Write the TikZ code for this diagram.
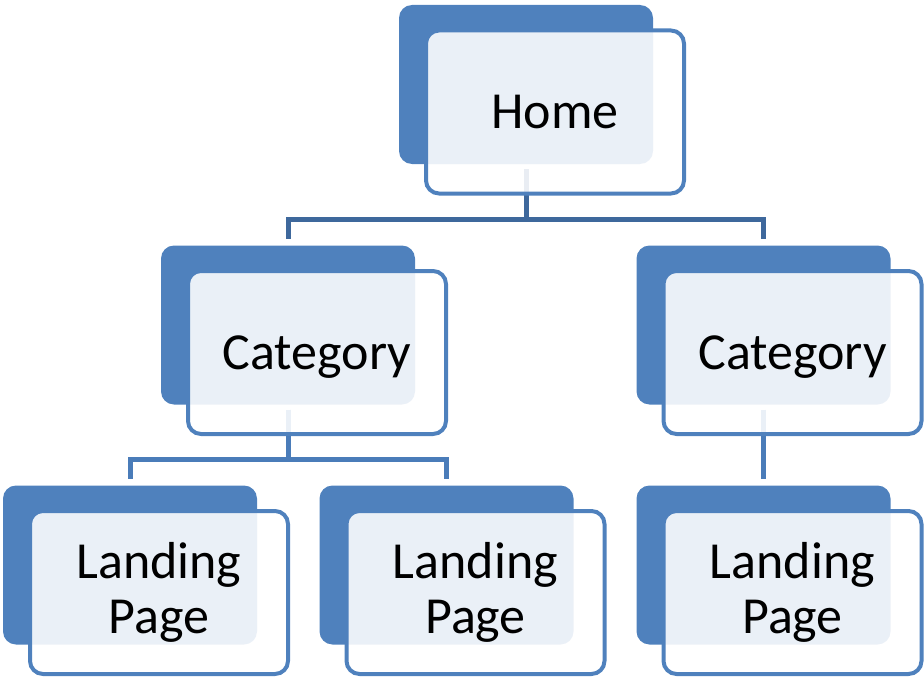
\documentclass[tikz,border=0pt]{standalone}
\usepackage{fontspec}
\setmainfont{Carlito}
\definecolor{accent}{RGB}{79,129,189}
\definecolor{connA}{RGB}{62,104,156}
\definecolor{connB}{RGB}{74,124,185}
\begin{document}
\begin{tikzpicture}[x=1pt,y=-1pt,
  backbox/.style={fill=accent, rounded corners=13pt, minimum width=254pt, minimum height=159pt, inner sep=0pt},
  frontbox/.style={draw=accent, line width=4pt, fill=white, fill opacity=0.885, text opacity=1, draw opacity=1,
    rounded corners=13pt, minimum width=258pt, minimum height=163pt, inner sep=0pt,
    font=\fontsize{52}{55}\selectfont, align=center},
  single/.style={text depth=0pt},
  linkA/.style={draw=connA, line width=5pt, shorten <=5pt, shorten >=6pt},
  linkB/.style={draw=connB, line width=5pt, shorten <=5pt, shorten >=6pt}]
\useasboundingbox (0,0) rectangle (924,677);
% back boxes
\node[backbox] (hb) at (526,84.5) {};
\node[backbox] (clb) at (288,325) {};
\node[backbox] (crb) at (763.5,325) {};
\node[backbox] (l1b) at (130,565) {};
\node[backbox] (l2b) at (446.5,565) {};
\node[backbox] (l3b) at (763.5,565) {};
% connectors
\coordinate (barA) at (0,219);
\coordinate (barB) at (0,459);
\draw[linkA] (hb.south) -- (hb.south |- barA) -| (clb.north);
\draw[linkA] (hb.south) -- (hb.south |- barA) -| (crb.north);
\draw[linkB] (clb.south) -- (clb.south |- barB) -| (l1b.north);
\draw[linkB] (clb.south) -- (clb.south |- barB) -| (l2b.north);
\draw[linkB] (crb.south) -- (l3b.north);
% front boxes
\node[frontbox,single] (hf) at (555,112) {Home};
\node[frontbox,single] (clf) at (317,352.5) {Category};
\node[frontbox,single] (crf) at (792.5,352.5) {Category};
\node[frontbox] (l1f) at (159,592.5) {Landing\\Page};
\node[frontbox] (l2f) at (475.5,592.5) {Landing\\Page};
\node[frontbox] (l3f) at (792.5,592.5) {Landing\\Page};
\end{tikzpicture}
\end{document}
